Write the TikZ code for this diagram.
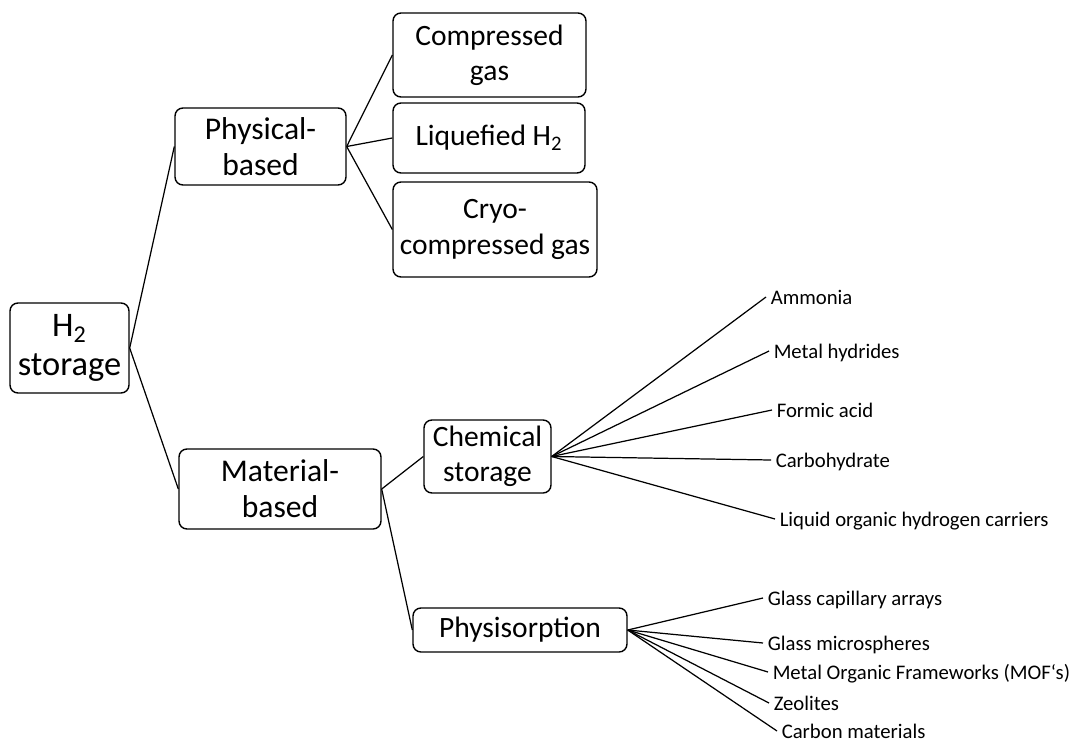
\documentclass[tikz,border=0pt]{standalone}
\usepackage{fontspec}
\setmainfont{Carlito}
\begin{document}
\begin{tikzpicture}[x=0.02cm,y=-0.02cm,
  box/.style={draw,line width=0.8pt,rounded corners=4.5pt,align=center,inner sep=0pt,font=\fontsize{16.8}{20}\selectfont},
  leaf/.style={anchor=west,inner xsep=2.5pt,inner ysep=0pt,text height=0.8em,text depth=0pt,font=\fontsize{11.8}{14}\selectfont},
  link/.style={line width=0.7pt}]
\useasboundingbox (0,0) rectangle (1078,744);
\node[box,minimum width=2.38cm,minimum height=1.8cm,font=\fontsize{19.6}{22}\selectfont] (store) at (69.5,348) {H\textsubscript{2}\\storage};
\node[box,minimum width=3.42cm,minimum height=1.54cm,font=\fontsize{18}{20.5}\selectfont] (phys) at (260.5,146.5) {Physical-\\based};
\node[box,minimum width=4.04cm,minimum height=1.6cm,font=\fontsize{18}{20.5}\selectfont] (mat) at (280,489) {Material-\\based};
\node[box,minimum width=3.86cm,minimum height=1.68cm] (comp) at (489.5,55) {Compressed\\gas};
\node[box,minimum width=3.84cm,minimum height=1.4cm] (liq) at (489,138) {Liquefied H\textsubscript{2}};
\node[box,minimum width=4.08cm,minimum height=1.9cm] (cryo) at (495,229.5) {Cryo-\\compressed gas};
\node[box,minimum width=2.54cm,minimum height=1.46cm] (chem) at (487.5,456.5) {Chemical\\storage};
\node[box,minimum width=4.28cm,minimum height=0.88cm] (sorp) at (520,630) {Physisorption};
\node[leaf] (amm) at (766,297) {Ammonia};
\node[leaf] (hyd) at (769,351) {Metal hydrides};
\node[leaf] (form) at (772,410) {Formic acid};
\node[leaf] (carbo) at (771,460) {Carbohydrate};
\node[leaf] (lohc) at (775,519) {Liquid organic hydrogen carriers};
\node[leaf] (cap) at (763,598) {Glass capillary arrays};
\node[leaf] (micro) at (763,643) {Glass microspheres};
\node[leaf] (mof) at (768,672) {Metal Organic Frameworks (MOF‘s)};
\node[leaf] (zeo) at (769,703) {Zeolites};
\node[leaf] (carbon) at (777,731) {Carbon materials};
\draw[link] (store.east)--(phys.west);
\draw[link] (store.east)--(mat.west);
\draw[link] (phys.east)--(comp.west);
\draw[link] (phys.east)--(liq.west);
\draw[link] (phys.east)--(cryo.west);
\draw[link] (mat.east)--(chem.west);
\draw[link] (mat.east)--(sorp.west);
\draw[link] (chem.east)--(amm.west);
\draw[link] (chem.east)--(hyd.west);
\draw[link] (chem.east)--(form.west);
\draw[link] (chem.east)--(carbo.west);
\draw[link] (chem.east)--(lohc.west);
\draw[link] (sorp.east)--(cap.west);
\draw[link] (sorp.east)--(micro.west);
\draw[link] (sorp.east)--(mof.west);
\draw[link] (sorp.east)--(zeo.west);
\draw[link] (sorp.east)--(carbon.west);
\end{tikzpicture}
\end{document}
